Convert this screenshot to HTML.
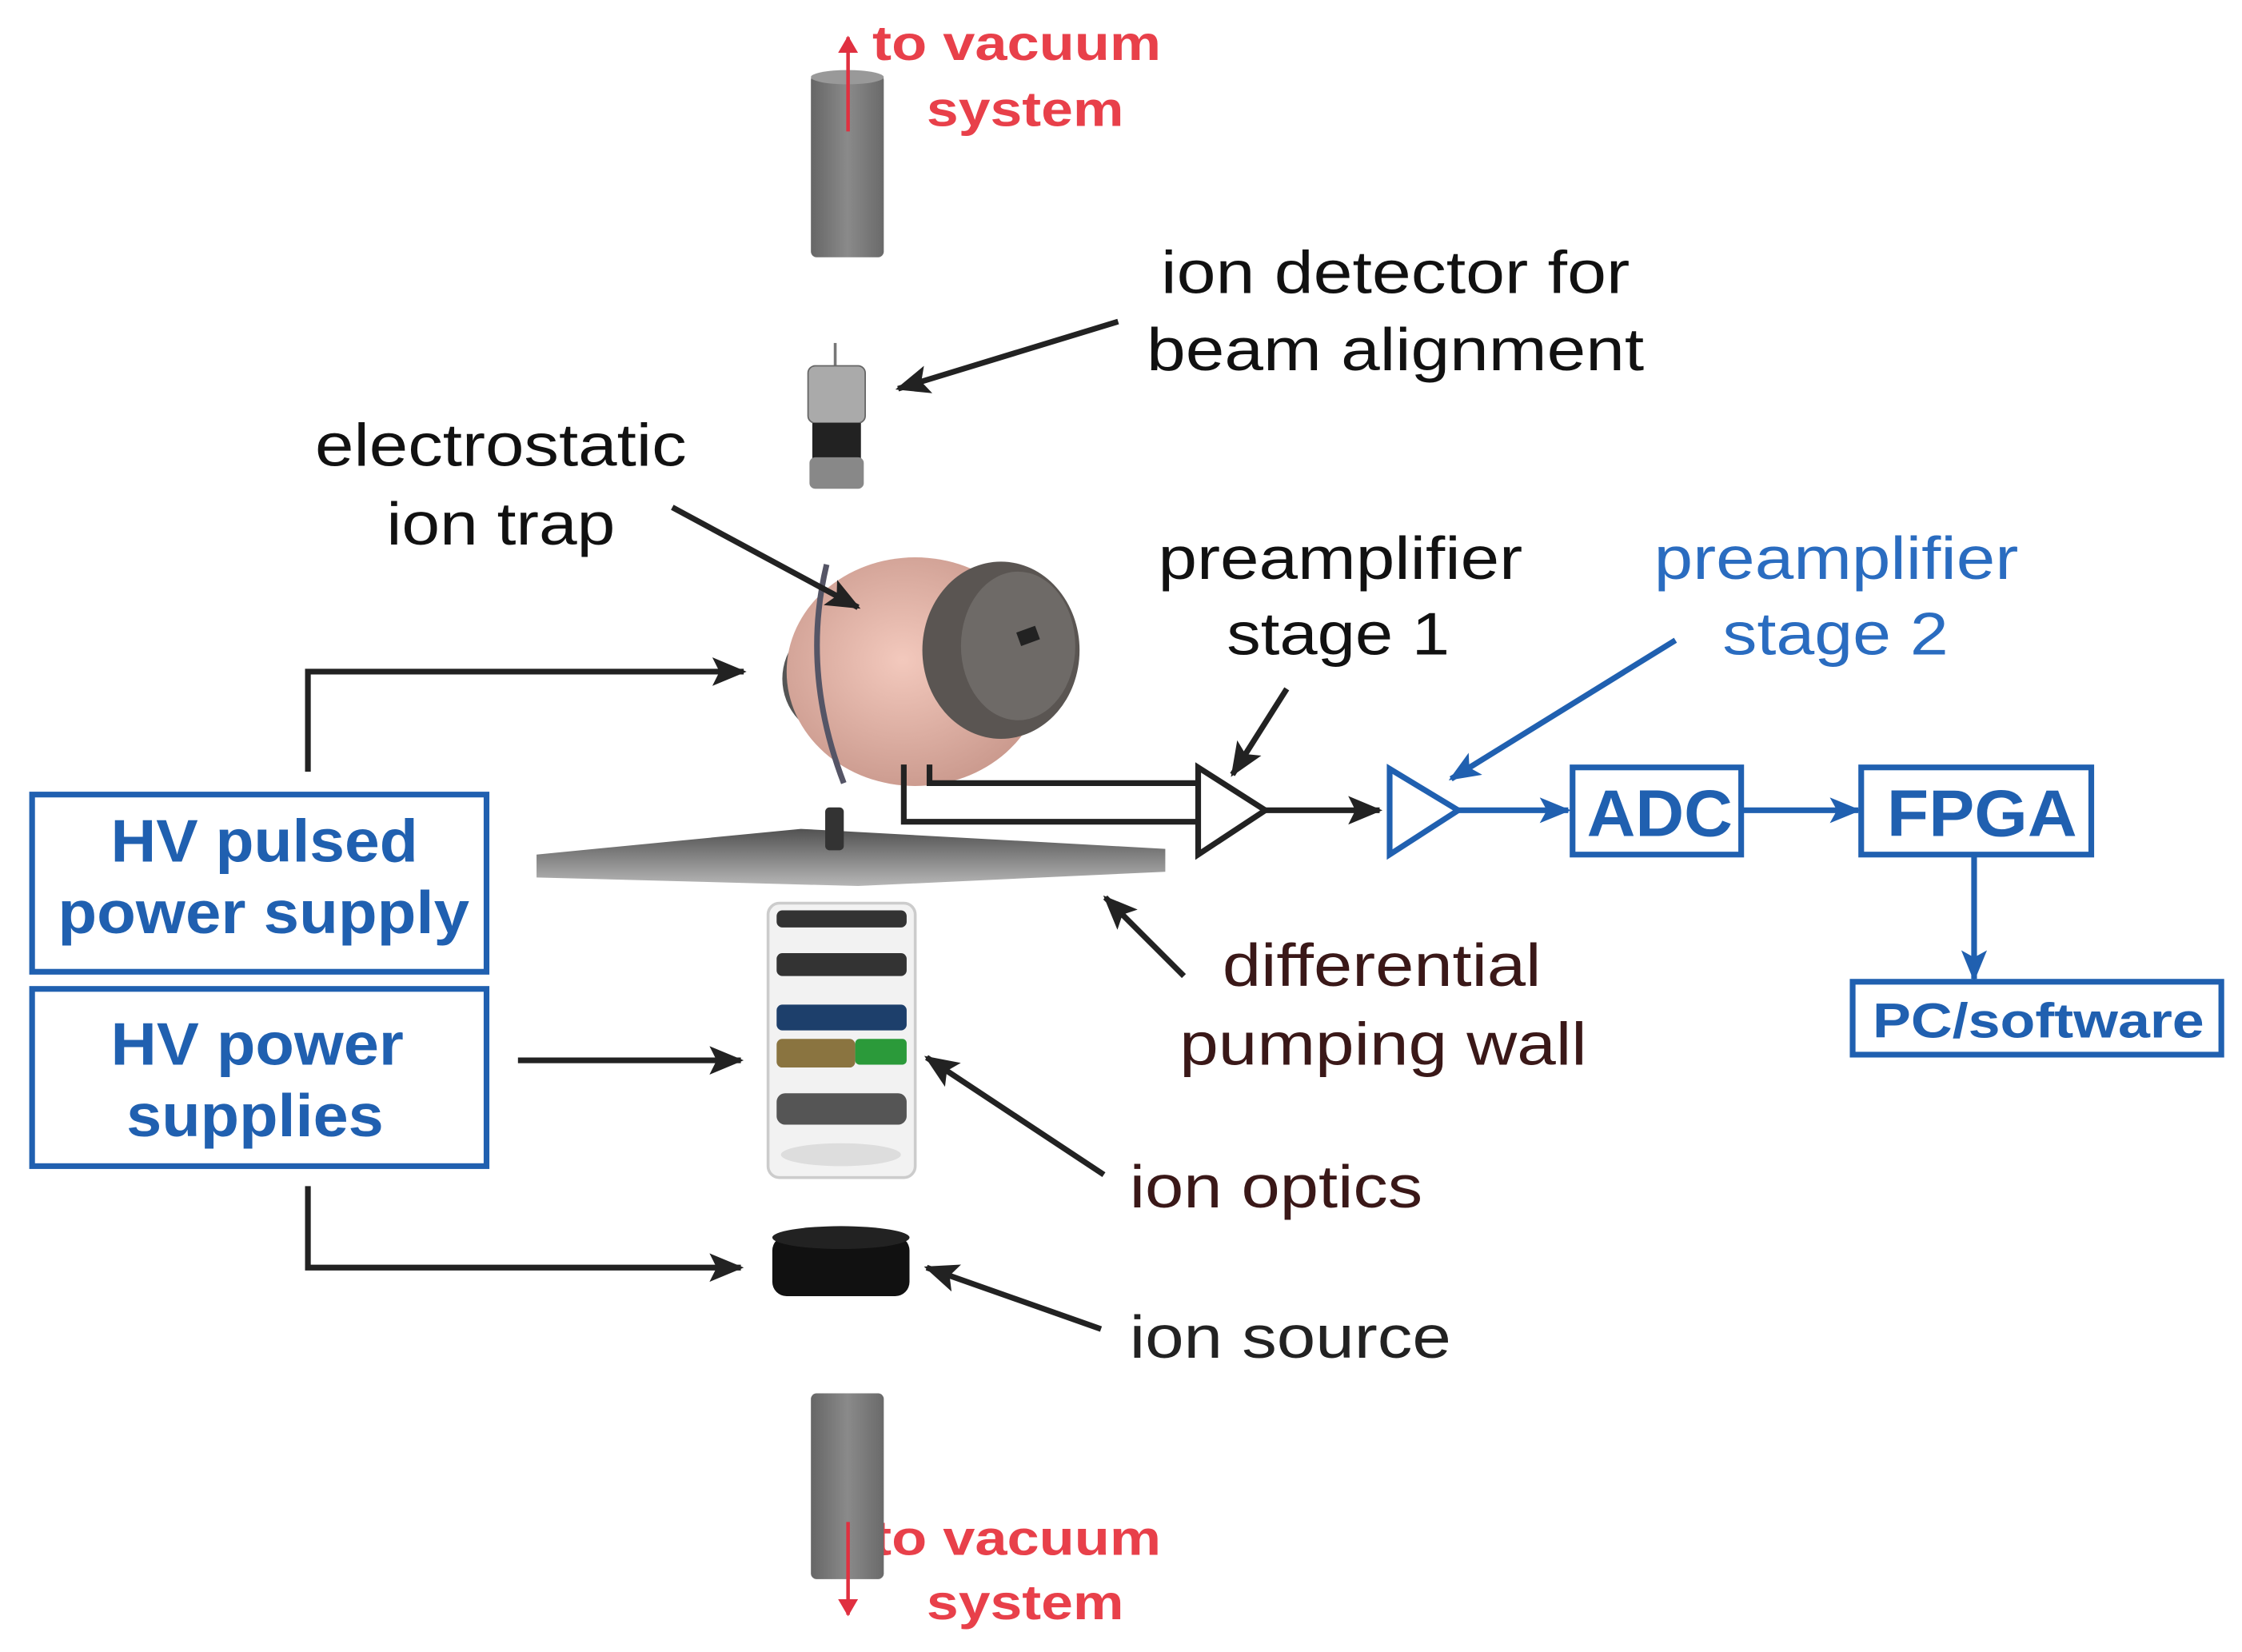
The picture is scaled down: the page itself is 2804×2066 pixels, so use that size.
<!DOCTYPE html>
<html><head><meta charset="utf-8"><style>html,body{margin:0;padding:0;background:#fff}svg{display:block}</style></head><body>
<svg width="2804" height="2066" viewBox="0 0 1568 1156" xmlns="http://www.w3.org/2000/svg" font-family="Liberation Sans, sans-serif">
<defs>
<marker id="akb" markerWidth="24" markerHeight="20" refX="22" refY="10" orient="auto" markerUnits="userSpaceOnUse"><path d="M0,0 L24,10 L0,20 L5,10z" fill="#222"/></marker>
<marker id="abb" markerWidth="22" markerHeight="18" refX="20" refY="9" orient="auto" markerUnits="userSpaceOnUse"><path d="M0,0 L22,9 L0,18 L5,9z" fill="#2060b0"/></marker>
<marker id="arr" markerWidth="12" markerHeight="14" refX="11" refY="7" orient="auto" markerUnits="userSpaceOnUse"><path d="M0,0 L12,7 L0,14z" fill="#e03040"/></marker>
<linearGradient id="cyl" x1="0" x2="1"><stop offset="0" stop-color="#666"/><stop offset=".5" stop-color="#8a8a8a"/><stop offset="1" stop-color="#6a6a6a"/></linearGradient>
<radialGradient id="pink" cx=".45" cy=".45" r=".6"><stop offset="0" stop-color="#f3c9bd"/><stop offset="1" stop-color="#c9988c"/></radialGradient>
<linearGradient id="wall" x1="0" y1="0" x2="0" y2="1"><stop offset="0" stop-color="#333"/><stop offset="1" stop-color="#aaa"/></linearGradient>
</defs>

<rect x="567" y="52" width="51" height="128" rx="4" fill="url(#cyl)"/>
<ellipse cx="592.5" cy="54" rx="25.5" ry="5" fill="#999"/>
<line x1="593" y1="92" x2="593" y2="26" stroke="#e03040" stroke-width="2.5" marker-end="url(#arr)"/>
<g fill="#e8404a" font-weight="bold" font-size="34">
<text x="610" y="42" textLength="202" lengthAdjust="spacingAndGlyphs">to vacuum</text>
<text x="648" y="88" textLength="138" lengthAdjust="spacingAndGlyphs">system</text>
<text x="610" y="1088" textLength="202" lengthAdjust="spacingAndGlyphs">to vacuum</text>
<text x="648" y="1133" textLength="138" lengthAdjust="spacingAndGlyphs">system</text>
</g>

<line x1="584" y1="240" x2="584" y2="256" stroke="#777" stroke-width="2"/>
<rect x="565" y="256" width="40" height="40" rx="5" fill="#aaa" stroke="#666"/>
<rect x="568" y="296" width="34" height="25" fill="#222"/>
<rect x="566" y="320" width="38" height="22" rx="4" fill="#888"/>

<ellipse cx="585" cy="475" rx="38" ry="40" fill="#555"/>
<ellipse cx="640" cy="470" rx="90" ry="80" fill="url(#pink)"/>
<path d="M578,395 Q560,470 590,548" fill="none" stroke="#556" stroke-width="4"/>
<ellipse cx="700" cy="455" rx="55" ry="62" fill="#5a5552"/>
<ellipse cx="712" cy="452" rx="40" ry="52" fill="#6e6a67"/>
<rect x="712" y="440" width="14" height="10" fill="#222" transform="rotate(-20 719 445)"/>

<path d="M375,598 L560,580 L815,594 L815,610 L600,620 L375,614 Z" fill="url(#wall)" opacity=".85"/>
<rect x="577" y="565" width="13" height="30" rx="3" fill="#333"/>

<rect x="537" y="632" width="103" height="192" rx="8" fill="#f2f2f2" stroke="#ccc" stroke-width="2"/>
<rect x="543" y="637" width="91" height="12" rx="4" fill="#333"/>
<rect x="543" y="667" width="91" height="16" rx="4" fill="#333"/>
<rect x="543" y="703" width="91" height="18" rx="4" fill="#1d3f6b"/>
<rect x="543" y="727" width="55" height="20" rx="4" fill="#8a7440"/>
<rect x="598" y="727" width="36" height="18" rx="3" fill="#2b9a3a"/>
<rect x="543" y="765" width="91" height="22" rx="6" fill="#555"/>
<ellipse cx="588" cy="808" rx="42" ry="8" fill="#ddd"/>

<rect x="540" y="865" width="96" height="42" rx="10" fill="#111"/>
<ellipse cx="588" cy="866" rx="48" ry="8" fill="#222"/>

<rect x="567" y="975" width="51" height="130" rx="4" fill="url(#cyl)"/>
<line x1="593" y1="1065" x2="593" y2="1130" stroke="#e03040" stroke-width="2.5" marker-end="url(#arr)"/>

<g fill="none" stroke="#2060b0" stroke-width="4">
<rect x="22" y="556" width="318" height="124"/>
<rect x="22" y="692" width="318" height="124"/>
<rect x="1100" y="537" width="118" height="61"/>
<rect x="1302" y="537" width="161" height="61"/>
<rect x="1296" y="687" width="258" height="51"/>
</g>
<g fill="#2060b0" font-weight="bold">
<text x="77" y="603" font-size="42" textLength="215" lengthAdjust="spacingAndGlyphs">HV pulsed</text>
<text x="40" y="653" font-size="42" textLength="288" lengthAdjust="spacingAndGlyphs">power supply</text>
<text x="77" y="745" font-size="42" textLength="205" lengthAdjust="spacingAndGlyphs">HV power</text>
<text x="88" y="795" font-size="42" textLength="180" lengthAdjust="spacingAndGlyphs">supplies</text>
<text x="1110" y="585" font-size="46" textLength="102" lengthAdjust="spacingAndGlyphs">ADC</text>
<text x="1320" y="585" font-size="46" textLength="133" lengthAdjust="spacingAndGlyphs">FPGA</text>
<text x="1310" y="726" font-size="34" textLength="232" lengthAdjust="spacingAndGlyphs">PC/software</text>
</g>

<g fill="none" stroke="#222" stroke-width="4">
<polyline points="215,540 215,470 520,470" marker-end="url(#akb)"/>
<line x1="362" y1="742" x2="518" y2="742" marker-end="url(#akb)"/>
<polyline points="215,830 215,887 518,887" marker-end="url(#akb)"/>
<polyline points="650,535 650,548 838,548"/>
<polyline points="632,535 632,575 838,575"/>
<line x1="885" y1="567" x2="965" y2="567" marker-end="url(#akb)"/>
<line x1="782" y1="225" x2="628" y2="272" marker-end="url(#akb)"/>
<line x1="470" y1="355" x2="600" y2="425" marker-end="url(#akb)"/>
<line x1="900" y1="482" x2="862" y2="542" marker-end="url(#akb)"/>
<line x1="828" y1="683" x2="773" y2="628" marker-end="url(#akb)"/>
<line x1="772" y1="822" x2="648" y2="740" marker-end="url(#akb)"/>
<line x1="770" y1="930" x2="648" y2="887" marker-end="url(#akb)"/>
</g>
<polygon points="838,537 838,598 885,567" fill="#fff" stroke="#222" stroke-width="4"/>

<g fill="none" stroke="#2060b0" stroke-width="4">
<polygon points="972,538 972,598 1020,567" fill="#fff"/>
<line x1="1020" y1="567" x2="1097" y2="567" marker-end="url(#abb)"/>
<line x1="1218" y1="567" x2="1300" y2="567" marker-end="url(#abb)"/>
<line x1="1381" y1="598" x2="1381" y2="685" marker-end="url(#abb)"/>
<line x1="1172" y1="448" x2="1015" y2="545" marker-end="url(#abb)"/>
</g>

<g font-size="42" fill="#111">
<text x="812" y="205" textLength="328" lengthAdjust="spacingAndGlyphs">ion detector for</text>
<text x="802" y="259" textLength="348" lengthAdjust="spacingAndGlyphs">beam alignment</text>
<text x="220" y="326" textLength="260" lengthAdjust="spacingAndGlyphs">electrostatic</text>
<text x="270" y="381" textLength="160" lengthAdjust="spacingAndGlyphs">ion trap</text>
<text x="810" y="405" textLength="255" lengthAdjust="spacingAndGlyphs">preamplifier</text>
<text x="858" y="458" textLength="156" lengthAdjust="spacingAndGlyphs">stage 1</text>
</g>
<g font-size="42" fill="#2a6cc0">
<text x="1157" y="405" textLength="255" lengthAdjust="spacingAndGlyphs">preamplifier</text>
<text x="1205" y="458" textLength="158" lengthAdjust="spacingAndGlyphs">stage 2</text>
</g>
<g font-size="42" fill="#3a1818">
<text x="855" y="690" textLength="223" lengthAdjust="spacingAndGlyphs">differential</text>
<text x="825" y="745" textLength="285" lengthAdjust="spacingAndGlyphs">pumping wall</text>
<text x="790" y="845" textLength="205" lengthAdjust="spacingAndGlyphs">ion optics</text>
</g>
<text x="790" y="950" font-size="42" fill="#222" textLength="225" lengthAdjust="spacingAndGlyphs">ion source</text>
</svg>
</body></html>
